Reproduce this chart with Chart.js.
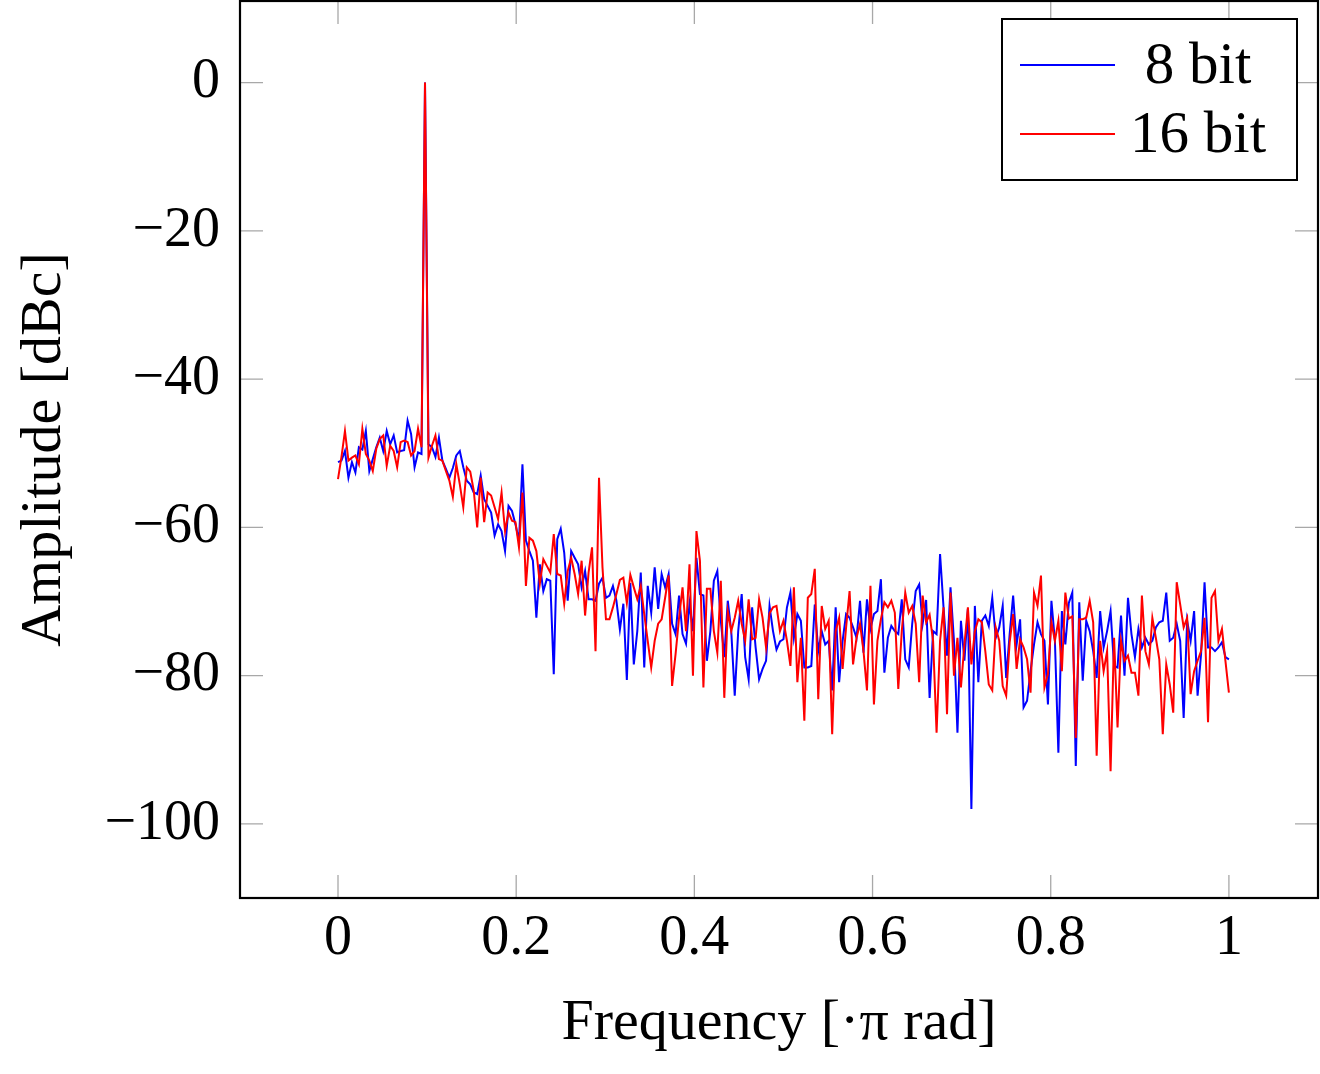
<!DOCTYPE html>
<html>
<head>
<meta charset="utf-8">
<title>Amplitude spectrum</title>
<script src="https://cdn.jsdelivr.net/npm/chart.js@4.4.1/dist/chart.umd.min.js"></script>
<style>
    html, body { margin: 0; padding: 0; background: #fff; }
    canvas { display: block; }
</style>
</head>
<body>
<canvas id="spectrumChart" width="1320" height="1074"></canvas>
<script>
// ========== Data ==========
const amp8bit = [
    -51.2, -51.0, -49.7, -53.3, -51.2, -52.6, -49.2, -49.5, -47.0, -52.4,
    -50.8, -49.2, -47.9, -49.7, -47.0, -48.8, -47.6, -49.9, -49.7, -49.6,
    -45.6, -47.4, -51.9, -49.9, -50.1, 0.0, -48.8, -49.2, -50.5, -47.9,
    -51.0, -52.1, -53.3, -52.0, -50.3, -49.7, -51.9, -53.7, -54.2, -55.3,
    -55.5, -53.0, -56.2, -57.1, -58.0, -61.1, -59.6, -60.5, -63.2, -57.1,
    -57.8, -59.6, -61.8, -51.5, -61.8, -63.2, -64.5, -72.2, -65.0, -68.6,
    -67.0, -67.2, -79.8, -61.6, -60.2, -63.4, -69.9, -63.2, -64.1, -65.0,
    -68.1, -65.9, -69.7, -69.7, -69.9, -67.6, -66.8, -69.5, -69.2, -67.9,
    -69.9, -73.8, -70.3, -80.6, -67.5, -78.5, -74.0, -66.1, -78.9, -67.9,
    -71.5, -65.4, -71.0, -66.3, -68.1, -66.3, -73.0, -74.4, -69.2, -74.4,
    -75.7, -70.3, -74.0, -64.1, -69.0, -69.2, -78.0, -74.0, -67.2, -65.9,
    -72.6, -77.5, -69.9, -74.0, -82.7, -74.0, -69.0, -77.5, -80.5, -70.8,
    -76.2, -80.5, -79.1, -78.0, -70.6, -74.0, -76.5, -75.4, -75.1, -70.8,
    -68.8, -74.9, -71.7, -72.6, -78.9, -78.9, -78.7, -70.4, -76.7, -74.0,
    -75.8, -75.3, -82.0, -70.8, -80.9, -75.3, -71.7, -72.2, -73.5, -74.9,
    -69.9, -76.9, -69.7, -73.7, -71.7, -71.3, -67.0, -79.6, -74.9, -73.3,
    -74.0, -74.4, -69.7, -77.8, -78.9, -73.0, -68.6, -67.7, -73.0, -69.8,
    -83.0, -74.0, -74.4, -63.6, -70.8, -77.3, -68.1, -75.3, -87.7, -72.6,
    -78.0, -71.0, -98.0, -70.6, -80.9, -72.6, -71.9, -73.3, -69.5, -74.9,
    -73.5, -70.6, -80.3, -74.4, -69.2, -75.8, -72.4, -84.3, -83.4, -79.4,
    -75.8, -72.8, -74.4, -75.3, -83.9, -69.9, -75.3, -90.4, -71.3, -75.8,
    -70.2, -68.8, -92.2, -70.1, -80.7, -72.6, -74.0, -76.7, -80.3, -71.3,
    -76.2, -74.0, -71.3, -78.7, -78.9, -71.9, -80.0, -69.5, -74.4, -77.5,
    -73.7, -76.2, -74.9, -75.8, -75.3, -73.5, -72.8, -72.6, -68.8, -75.3,
    -74.9, -73.0, -75.3, -85.7, -72.6, -75.3, -71.3, -82.7, -77.1, -67.4,
    -76.2, -76.2, -76.7, -76.2, -75.5, -77.5, -77.8
];

const amp16bit = [
    -53.5, -50.5, -47.0, -51.0, -50.6, -50.3, -51.5, -46.7, -50.1, -51.0,
    -52.4, -49.4, -48.1, -47.6, -51.7, -49.0, -49.7, -51.9, -48.5, -48.3,
    -48.5, -50.3, -49.7, -46.7, -49.2, 0.0, -50.6, -49.0, -47.6, -50.8,
    -51.0, -52.4, -53.7, -55.9, -51.5, -54.2, -57.3, -51.9, -52.5, -55.0,
    -60.0, -53.3, -59.3, -55.3, -55.7, -57.3, -58.9, -55.3, -60.5, -58.0,
    -59.1, -59.3, -62.7, -55.3, -67.9, -61.4, -61.8, -63.2, -67.6, -64.3,
    -65.2, -66.1, -60.9, -66.3, -66.5, -70.3, -65.9, -64.1, -66.3, -69.0,
    -64.5, -71.9, -66.1, -62.7, -76.7, -53.3, -65.4, -72.4, -72.4, -70.8,
    -69.0, -67.1, -66.8, -70.2, -66.4, -68.1, -69.7, -67.9, -71.7, -75.3,
    -78.9, -75.3, -73.0, -72.4, -69.5, -66.5, -81.4, -77.1, -72.2, -68.1,
    -74.0, -65.0, -80.0, -60.5, -64.5, -81.6, -68.3, -68.3, -74.0, -76.9,
    -67.2, -83.0, -71.3, -74.0, -72.2, -69.9, -73.0, -75.3, -69.7, -75.1,
    -74.9, -69.7, -72.2, -76.2, -71.6, -70.8, -70.6, -74.0, -72.6, -75.3,
    -78.7, -68.1, -80.9, -74.9, -86.1, -69.5, -69.0, -65.6, -83.2, -70.6,
    -73.7, -72.6, -87.9, -74.0, -72.2, -79.1, -73.5, -68.6, -78.5, -74.9,
    -73.0, -76.7, -82.0, -67.9, -83.9, -75.3, -72.4, -70.1, -70.8, -69.9,
    -71.5, -81.8, -74.0, -68.8, -71.5, -70.6, -73.0, -80.9, -69.2, -72.8,
    -71.8, -75.3, -87.7, -75.3, -70.8, -85.2, -68.8, -80.0, -74.9, -81.6,
    -75.8, -70.8, -78.5, -74.0, -72.4, -72.8, -76.7, -81.2, -82.0, -73.5,
    -75.3, -81.4, -82.7, -75.5, -71.7, -79.1, -75.1, -76.2, -77.8, -82.3,
    -68.8, -70.6, -66.5, -81.6, -79.8, -72.8, -75.3, -72.6, -79.4, -68.8,
    -72.3, -72.0, -88.4, -72.4, -72.4, -72.2, -69.9, -72.8, -90.8, -75.3,
    -79.4, -76.7, -92.9, -74.9, -87.0, -75.3, -78.0, -77.3, -79.6, -79.6,
    -82.7, -69.2, -76.7, -78.5, -72.2, -74.9, -77.8, -87.9, -78.5, -81.2,
    -85.0, -67.4, -70.4, -73.5, -72.2, -82.5, -79.4, -78.0, -76.7, -72.2,
    -86.3, -69.5, -68.6, -75.3, -73.7, -78.0, -82.3
];

// FFT bins are evenly spaced from 0 to 1 (x pi rad)
const freq = amp8bit.map((_, i) => i / (amp8bit.length - 1));

const xTicks = [0, 0.2, 0.4, 0.6, 0.8, 1];
const yTicks = [-100, -80, -60, -40, -20, 0];

const seriesNames = ['8 bit', '16 bit'];
const seriesColors = ['#0000ff', '#ff0000'];

// ========== Helpers ==========
const FONT = "'Liberation Serif', 'DejaVu Serif', serif";
const TICK_LEN = 23;

function fmtNum(v) {
    const s = String(Math.round(v * 10) / 10);
    return v < 0 ? '\u2212' + s.slice(1) : s;
}

// pgfplots style frame + inner ticks on all four sides
const framePlugin = {
    id: 'frame',
    beforeDatasetsDraw(chart) {
        const { ctx, chartArea: a, scales } = chart;
        ctx.save();
        ctx.strokeStyle = '#a8a8a8';
        ctx.lineWidth = 1.3;
        ctx.beginPath();
        xTicks.forEach(v => {
            const px = scales.x.getPixelForValue(v);
            ctx.moveTo(px, a.bottom); ctx.lineTo(px, a.bottom - TICK_LEN);
            ctx.moveTo(px, a.top); ctx.lineTo(px, a.top + TICK_LEN);
        });
        yTicks.forEach(v => {
            const py = scales.y.getPixelForValue(v);
            ctx.moveTo(a.left, py); ctx.lineTo(a.left + TICK_LEN, py);
            ctx.moveTo(a.right, py); ctx.lineTo(a.right - TICK_LEN, py);
        });
        ctx.stroke();
        ctx.restore();
    },
    afterDatasetsDraw(chart) {
        const { ctx, chartArea: a } = chart;
        ctx.save();
        ctx.strokeStyle = '#000';
        ctx.lineWidth = 2.2;
        ctx.strokeRect(a.left, a.top, a.right - a.left, a.bottom - a.top);
        ctx.restore();
    },
    afterDraw(chart) {
        // legend box in the upper right corner
        const { ctx, chartArea: a } = chart;
        const boxW = 295, boxH = 161;
        const bx = a.right - 21 - boxW, by = a.top + 18;
        ctx.save();
        ctx.fillStyle = '#fff';
        ctx.fillRect(bx, by, boxW, boxH);
        ctx.strokeStyle = '#000';
        ctx.lineWidth = 2;
        ctx.strokeRect(bx, by, boxW, boxH);
        ctx.font = '59px ' + FONT;
        ctx.textAlign = 'center';
        ctx.textBaseline = 'alphabetic';
        seriesNames.forEach((name, i) => {
            const ly = by + 46 + i * 69;
            ctx.strokeStyle = seriesColors[i];
            ctx.lineWidth = 2;
            ctx.beginPath();
            ctx.moveTo(bx + 18, ly);
            ctx.lineTo(bx + 113, ly);
            ctx.stroke();
            ctx.fillStyle = '#000';
            ctx.fillText(name, bx + 196, ly + 18);
        });
        ctx.restore();
    }
};

// ========== Chart ==========
document.addEventListener('DOMContentLoaded', function () {
    const ctx = document.getElementById('spectrumChart').getContext('2d');

    new Chart(ctx, {
        type: 'line',
        data: {
            datasets: [
                {
                    label: seriesNames[0],
                    data: freq.map((f, i) => ({ x: f, y: amp8bit[i] })),
                    borderColor: seriesColors[0],
                    borderWidth: 2,
                    pointRadius: 0,
                    tension: 0,
                    fill: false,
                    order: 1
                },
                {
                    label: seriesNames[1],
                    data: freq.map((f, i) => ({ x: f, y: amp16bit[i] })),
                    borderColor: seriesColors[1],
                    borderWidth: 2,
                    pointRadius: 0,
                    tension: 0,
                    fill: false,
                    order: 0
                }
            ]
        },
        options: {
            responsive: false,
            animation: false,
            devicePixelRatio: 1,
            layout: { padding: { top: 1, right: 2, left: 0, bottom: 0 } },
            plugins: {
                legend: { display: false },
                tooltip: { enabled: false }
            },
            scales: {
                x: {
                    type: 'linear',
                    min: -0.11,
                    max: 1.1,
                    grid: { display: false },
                    border: { display: false },
                    afterBuildTicks: s => { s.ticks = xTicks.map(v => ({ value: v })); },
                    afterFit: s => {
                        s.height = 176;
                        s.paddingLeft = 0;
                        s.paddingRight = 0;
                    },
                    ticks: {
                        color: '#000',
                        padding: 0,
                        maxRotation: 0,
                        font: { family: FONT, size: 56 },
                        callback: v => fmtNum(v)
                    },
                    title: {
                        display: true,
                        text: 'Frequency [\u00b7\u03c0 rad]',
                        color: '#000',
                        font: { family: FONT, size: 58 },
                        padding: { top: 0, bottom: 15 }
                    }
                },
                y: {
                    type: 'linear',
                    min: -110,
                    max: 11,
                    grid: { display: false },
                    border: { display: false },
                    afterBuildTicks: s => { s.ticks = yTicks.map(v => ({ value: v })); },
                    afterFit: s => {
                        s.width = 240;
                        s.paddingTop = 0;
                        s.paddingBottom = 0;
                    },
                    ticks: {
                        color: '#000',
                        padding: 12,
                        font: { family: FONT, size: 56 },
                        callback: v => fmtNum(v)
                    },
                    title: {
                        display: true,
                        text: 'Amplitude [dBc]',
                        color: '#000',
                        font: { family: FONT, size: 58 },
                        padding: { top: 10, bottom: 0 }
                    }
                }
            }
        },
        plugins: [framePlugin]
    });
});
</script>
</body>
</html>
